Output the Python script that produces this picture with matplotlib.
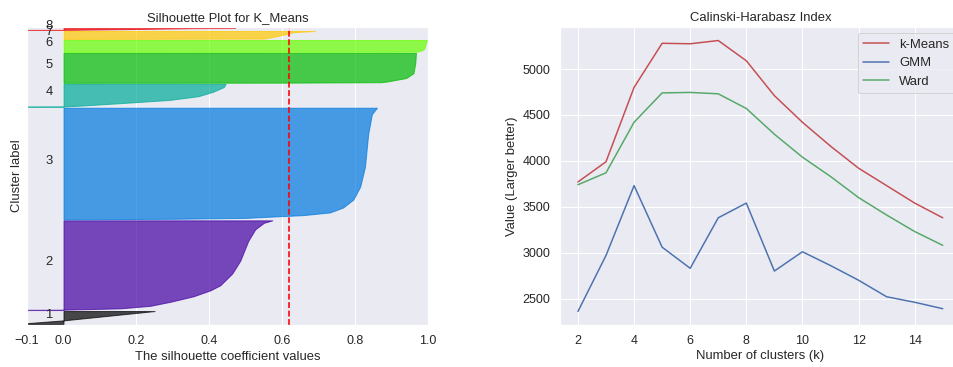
import numpy as np
import matplotlib
matplotlib.use("Agg")
import matplotlib.pyplot as plt
import matplotlib.cm as cm
import seaborn as sns

sns.set_theme()
plt.rcParams['font.family'] = ['Liberation Sans', 'DejaVu Sans']
plt.rcParams['axes.titlesize'] = 13
plt.rcParams['axes.labelsize'] = 13
plt.rcParams['xtick.labelsize'] = 12.5
plt.rcParams['ytick.labelsize'] = 12.5
plt.rcParams['legend.fontsize'] = 13
plt.rcParams['font.size'] = 13

# ---- Calinski-Harabasz scores ----
k_values = [2, 3, 4, 5, 6, 7, 8, 9, 10, 11, 12, 13, 14, 15]
ch_kmeans = [3770, 3990, 4800, 5280, 5275, 5310, 5090, 4710, 4420, 4160, 3920, 3730, 3540, 3380]
ch_gmm = [2360, 2970, 3730, 3060, 2830, 3380, 3540, 2800, 3010, 2860, 2700, 2520, 2460, 2390]
ch_ward = [3740, 3870, 4420, 4740, 4745, 4730, 4570, 4290, 4040, 3830, 3600, 3410, 3230, 3080]

# ---- silhouette profile (sorted values per cluster, read at a few ranks) ----
cluster_sizes = [130, 900, 1120, 230, 300, 120, 80, 20]
sil_frac = [
    [0.0, 0.28, 1.0],
    [0.0, 0.004, 0.019, 0.047, 0.092, 0.154, 0.22, 0.276, 0.408, 0.551, 0.772, 0.90, 0.973, 1.0],
    [0.0, 0.005, 0.013, 0.024, 0.038, 0.062, 0.106, 0.177, 0.294, 0.47, 0.768, 0.942, 1.0],
    [0.0, 0.01, 0.05, 0.156, 0.295, 0.46, 0.65, 0.86, 1.0],
    [0.0, 0.005, 0.02, 0.04, 0.16, 0.32, 0.65, 1.0],
    [0.0, 0.01, 0.02, 0.15, 0.3, 1.0],
    [0.0, 0.05, 0.3, 0.6, 0.85, 1.0],
    [0.0, 0.05, 0.5, 0.9, 1.0],
]
sil_vals = [
    [-0.13, 0.0, 0.25],
    [-0.3, 0.0, 0.156, 0.238, 0.293, 0.357, 0.403, 0.43, 0.463, 0.485, 0.507, 0.526, 0.55, 0.573],
    [0.0, 0.3, 0.5, 0.567, 0.658, 0.731, 0.767, 0.795, 0.814, 0.827, 0.836, 0.846, 0.86],
    [-0.3, 0.0, 0.05, 0.156, 0.29, 0.37, 0.41, 0.44, 0.445],
    [0.0, 0.6, 0.87, 0.886, 0.94, 0.96, 0.965, 0.967],
    [0.0, 0.9, 0.97, 0.985, 0.99, 0.997],
    [0.0, 0.55, 0.58, 0.61, 0.63, 0.69],
    [-0.3, 0.0, 0.2, 0.35, 0.47],
]
silhouette_avg = 0.62
n_clusters = len(cluster_sizes)

fig = plt.figure(figsize=(953 / 72, 367 / 72), dpi=72)
ax1 = fig.add_axes([27 / 953, 42 / 367, 401 / 953, 298 / 367])
ax2 = fig.add_axes([559.7 / 953, 42 / 367, 401.3 / 953, 298 / 367])

# silhouette plot
y_lower = 10
for i in range(n_clusters):
    size = cluster_sizes[i]
    y = y_lower + np.array(sil_frac[i]) * size
    color = cm.nipy_spectral(float(i) / n_clusters)
    ax1.fill_betweenx(y, 0, sil_vals[i], facecolor=color, edgecolor=color, alpha=0.7)
    ax1.text(-0.05, y_lower + 0.5 * size, str(i + 1))
    y_lower = y_lower + size + 10

ax1.axvline(x=silhouette_avg, color="red", linestyle="--", linewidth=1.6)
ax1.set_xlim([-0.1, 1])
ax1.set_ylim([0, sum(cluster_sizes) + (n_clusters + 1) * 10])
ax1.set_yticks([])
ax1.set_xticks([-0.1, 0, 0.2, 0.4, 0.6, 0.8, 1])
ax1.set_title("Silhouette Plot for K_Means")
ax1.set_xlabel("The silhouette coefficient values")
ax1.set_ylabel("Cluster label")

# Calinski-Harabasz
ax2.plot(k_values, ch_kmeans, 'r', label="k-Means")
ax2.plot(k_values, ch_gmm, 'b', label="GMM")
ax2.plot(k_values, ch_ward, 'g', label="Ward")
ax2.set_xticks([2, 4, 6, 8, 10, 12, 14])
ax2.set_title("Calinski-Harabasz Index")
ax2.set_xlabel("Number of clusters (k)")
ax2.set_ylabel("Value (Larger better)")
ax2.legend(loc="upper right")

plt.savefig("out.png", dpi=72)
